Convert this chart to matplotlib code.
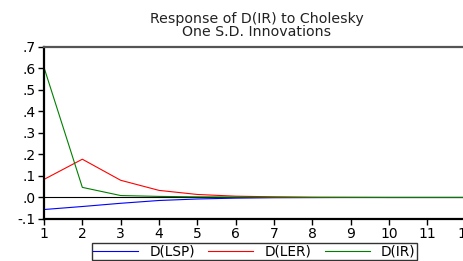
import matplotlib
matplotlib.use("Agg")
import matplotlib.pyplot as plt

periods = [1, 2, 3, 4, 5, 6, 7, 8, 9, 10, 11, 12]
lsp = [-0.056, -0.042, -0.027, -0.014, -0.007, -0.003, -0.001, -0.0005, 0.0, 0.0, 0.0, 0.0]
ler = [0.084, 0.178, 0.080, 0.033, 0.014, 0.006, 0.003, 0.001, 0.0005, 0.0, 0.0, 0.0]
ir = [0.605, 0.047, 0.009, 0.005, 0.003, 0.002, 0.001, 0.0005, 0.0, 0.0, 0.0, 0.0]
yticks = [-0.1, 0.0, 0.1, 0.2, 0.3, 0.4, 0.5, 0.6, 0.7]
ytick_labels = ["-.1", ".0", ".1", ".2", ".3", ".4", ".5", ".6", ".7"]

plt.rcParams["font.family"] = ["DejaVu Sans"]

fig = plt.figure(figsize=(4.64, 2.61), dpi=100)
ax = fig.add_axes([0.0948, 0.161, 0.909, 0.659])

ax.plot(periods, lsp, color="#0000ff", linewidth=0.8, label="D(LSP)")
ax.plot(periods, ler, color="#ff0000", linewidth=0.8, label="D(LER)")
ax.plot(periods, ir, color="#008000", linewidth=0.8, label="D(IR)")
ax.axhline(0, color="black", linewidth=0.8, zorder=0)

ax.set_xlim(1, 12)
ax.set_ylim(-0.1, 0.7)
ax.set_xticks(periods)
ax.set_xticklabels([str(p) for p in periods], fontsize=10)
ax.set_yticks(yticks)
ax.set_yticklabels(ytick_labels, fontsize=10)
ax.tick_params(direction="out", length=4, width=1, pad=2)

ax.spines["right"].set_visible(False)
ax.spines["top"].set_color("#555555")
ax.spines["top"].set_linewidth(1.6)
ax.spines["left"].set_linewidth(1.6)
ax.spines["bottom"].set_linewidth(1.6)

fig.text(0.553, 0.955, "Response of D(IR) to Cholesky\nOne S.D. Innovations",
         ha="center", va="top", fontsize=10.2, linespacing=0.95, color="#222222")

leg = fig.legend(loc="center", bbox_to_anchor=(0.548, 0.036), ncol=3, fontsize=9.8,
                 frameon=True, fancybox=False, edgecolor="black", handlelength=3.3,
                 columnspacing=1.0, handletextpad=0.8, borderpad=0.1)
leg.get_frame().set_linewidth(1.0)

fig.savefig("out.png", dpi=100)
